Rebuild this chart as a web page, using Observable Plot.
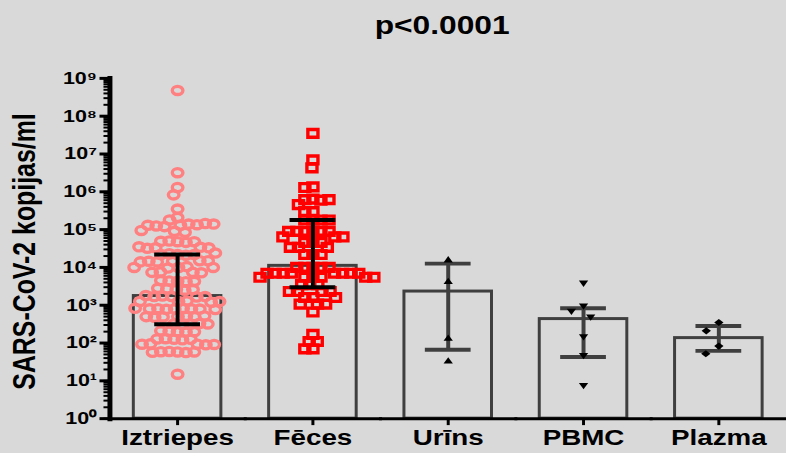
<!DOCTYPE html>
<html><head><meta charset="utf-8">
<script src="https://cdn.jsdelivr.net/npm/d3@7"></script>
<script src="https://cdn.jsdelivr.net/npm/@observablehq/plot@0.6"></script>
<style>
html,body{margin:0;padding:0;background:#d9d9d9;overflow:hidden;}
#wrap{width:786px;height:453px;overflow:hidden;position:relative;font-family:"Liberation Sans",Arial,sans-serif;}
#title{height:55px;box-sizing:border-box;padding-top:11px;padding-left:98px;text-align:center;line-height:28px;}
#title span{display:inline-block;font-weight:bold;font-size:25px;transform:scaleX(1.27);color:#000;}
#chart svg{display:block;}
</style></head>
<body><div id="wrap"><div id="title"><span id="t"></span></div><div id="chart"></div></div>
<script>
const title = "p<0.0001";
const yLabel = "SARS-CoV-2 kopijas/ml";
const categories = ["Iztriepes", "Fēces", "Urīns", "PBMC", "Plazma"];
const medians = [1750, 11000, 2300, 430, 135];
const lows = [316, 3000, 66, 43, 62];
const highs = [22000, 180000, 12600, 830, 282];
const yTicks = [1, 10, 100, 1e3, 1e4, 1e5, 1e6, 1e7, 1e8, 1e9];

const iztriepes = [
  4.8e8, 3.2e6, 1.3e6, 8.3e5, 3.5e5, 2.1e5, 1.8e5,
  1.3e5, 1.4e5, 1.2e5, 1.35e5, 1.25e5, 1.45e5, 1.3e5, 1.4e5,
  9e4, 8.5e4, 9.5e4,
  4.8e4, 5e4, 4.6e4, 4.8e4, 4.9e4,
  3.3e4, 3.4e4, 3.2e4, 3.3e4, 3.5e4,
  2.2e4, 2.3e4, 2.1e4, 2.2e4, 2.2e4, 2.4e4,
  1.45e4, 1.5e4, 1.4e4, 1.45e4, 1.5e4, 1.4e4,
  1e4, 1.05e4, 9.6e3, 1e4, 1e4,
  7.4e3, 7.6e3, 7.2e3, 7.4e3,
  4.3e3, 4.4e3, 4.2e3, 4.3e3, 4.5e3,
  2.6e3, 2.7e3, 2.5e3, 2.6e3, 2.8e3,
  1.7e3, 1.75e3, 1.65e3, 1.7e3, 1.7e3, 1.8e3,
  1.26e3, 1.3e3, 1.2e3, 1.26e3, 1.25e3,
  800, 820, 780, 800, 810, 790, 800, 830, 770,
  500, 510, 490, 500, 520, 480, 500,
  320, 330, 310, 320, 320,
  200, 205, 195, 200, 210,
  126, 130, 122, 126, 128,
  93, 95, 90, 93, 92,
  58, 60, 56, 58, 59, 57,
  15
];
const feces = [
  3.5e7, 7e6, 4.3e6, 1.35e6, 1.3e6,
  6.4e5, 6.2e5, 6.0e5, 6.2e5, 4.6e5,
  3e5, 3e5,
  1.8e5, 1.8e5, 1.8e5, 1.8e5,
  9e4, 9e4, 9e4, 9e4, 9e4, 9e4,
  6.4e4, 6.4e4, 6.4e4,
  4.6e4, 4.6e4, 4.6e4,
  3.4e4, 3.4e4, 3.4e4,
  2.2e4, 2.2e4, 2.2e4,
  1e4, 1e4, 1e4, 1e4, 1e4,
  7e3, 7e3, 7e3, 7e3, 7e3, 7e3, 7e3, 7e3,
  5.5e3, 5.5e3, 5.5e3, 5.5e3, 5.5e3, 5.5e3,
  3.5e3, 3.5e3, 3.5e3,
  2.3e3, 2.3e3, 2.3e3, 2.3e3,
  1.6e3, 1.6e3, 1.6e3,
  1.07e3, 1.07e3, 1.07e3,
  660, 170, 110, 110, 70, 70
];
const urins = [16000, 4300, 135, 34];
const pbmc = [3800, 940, 690, 480, 145, 46, 7.4];
const plazma = [350, 210, 83, 52];

document.getElementById("t").textContent = title;

const SX = 1.3;
const K = 0.5523;
const sizeR = (size) => Math.sqrt(size / Math.PI);
const ringSym = {draw(c, size) {
  const ry = sizeR(size), rx = ry * SX;
  c.moveTo(rx, 0);
  c.bezierCurveTo(rx, K * ry, K * rx, ry, 0, ry);
  c.bezierCurveTo(-K * rx, ry, -rx, K * ry, -rx, 0);
  c.bezierCurveTo(-rx, -K * ry, -K * rx, -ry, 0, -ry);
  c.bezierCurveTo(K * rx, -ry, rx, -K * ry, rx, 0);
  c.closePath();
}};
const squareSym = {draw(c, size) {
  const h = sizeR(size), w = h * SX;
  c.rect(-w, -h, 2 * w, 2 * h);
}};
const triUp = {draw(c, size) {
  const r = sizeR(size), w = r * SX;
  c.moveTo(0, -r); c.lineTo(w, r * 0.75); c.lineTo(-w, r * 0.75); c.closePath();
}};
const triDown = {draw(c, size) {
  const r = sizeR(size), w = r * SX;
  c.moveTo(0, r); c.lineTo(w, -r * 0.75); c.lineTo(-w, -r * 0.75); c.closePath();
}};
const diamond = {draw(c, size) {
  const r = sizeR(size), w = r * SX;
  c.moveTo(0, -r); c.lineTo(w, 0); c.lineTo(0, r); c.lineTo(-w, 0); c.closePath();
}};

const summary = categories.map((cat, i) => ({cat, median: medians[i], lo: lows[i], hi: highs[i]}));
const rows = (cat, vals) => vals.map((v) => ({cat, v}));
const strong = new Set([categories[0], categories[1]]);

const sup = {"0":"⁰","1":"¹","2":"²","3":"³","4":"⁴","5":"⁵","6":"⁶","7":"⁷","8":"⁸","9":"⁹"};
const fmt = (d) => "10" + String(Math.round(Math.log10(d))).split("").map((c) => sup[c]).join("");

const errMarks = (filter, stroke) => [
  Plot.ruleX(summary, {filter, fx: "cat", x: null, y1: "lo", y2: "hi", stroke, strokeWidth: 4}),
  Plot.tickY(summary, {filter, fx: "cat", y: "hi", insetLeft: 45, insetRight: 45, stroke, strokeWidth: 4}),
  Plot.tickY(summary, {filter, fx: "cat", y: "lo", insetLeft: 45, insetRight: 45, stroke, strokeWidth: 4})
];

const svg = Plot.plot({
  width: 790, height: 398,
  marginLeft: 110, marginRight: 0, marginTop: 23, marginBottom: 33,
  style: {background: "transparent", fontFamily: "'Liberation Sans', Arial, sans-serif", fontWeight: "bold", color: "#000", overflow: "visible"},
  fx: {domain: categories, padding: 0, label: null},
  y: {type: "log", domain: [1, 1e9], label: null},
  marks: [
    Plot.barY(summary, {fx: "cat", y1: 1, y2: "median", insetLeft: 24, insetRight: 24, fill: "none", stroke: "#3f3f3f", strokeWidth: 3}),
    errMarks((d) => !strong.has(d.cat), "#3f3f3f"),
    Plot.dot(rows(categories[0], iztriepes), Plot.dodgeX({anchor: "middle", padding: 0.2}, {fx: "cat", y: "v", r: 4.1, symbol: ringSym, fill: "none", stroke: "#ff8080", strokeWidth: 3.4})),
    Plot.dot(rows(categories[1], feces), Plot.dodgeX({anchor: "middle", padding: 0.3}, {fx: "cat", y: "v", r: 3.9, symbol: squareSym, fill: "none", stroke: "#ff0000", strokeWidth: 3.4})),
    Plot.dot(rows(categories[2], urins), Plot.dodgeX({anchor: "middle", padding: 2}, {fx: "cat", y: "v", r: 3.6, symbol: triUp, fill: "#000", stroke: "none"})),
    Plot.dot(rows(categories[3], pbmc), Plot.dodgeX({anchor: "middle", padding: 6}, {fx: "cat", y: "v", r: 3.6, symbol: triDown, fill: "#000", stroke: "none"})),
    Plot.dot(rows(categories[4], plazma), Plot.dodgeX({anchor: "middle", padding: 8}, {fx: "cat", y: "v", r: 3.6, symbol: diamond, fill: "#000", stroke: "none"})),
    errMarks((d) => strong.has(d.cat), "#000"),
    Plot.frame({anchor: "bottom", stroke: "#000", strokeWidth: 3}),
    Plot.frame({anchor: "left", stroke: "#000", strokeWidth: 5, facetAnchor: "left"}),
    Plot.axisY({ticks: 10, tickSize: 6, tickFormat: () => "", label: null, strokeWidth: 2}),
    Plot.axisY({ticks: yTicks, tickSize: 10, tickPadding: 3, tickFormat: fmt, label: null, strokeWidth: 3, fontSize: 17, fontWeight: "bold"}),
    Plot.axisFx({anchor: "bottom", tickSize: 7, tickPadding: 4, label: null, strokeWidth: 3, fontSize: 22, fontWeight: "bold"}),
    Plot.text([yLabel], {frameAnchor: "left", textAnchor: "middle", dx: -85, dy: 3, rotate: -90, fontSize: 25, fontWeight: "bold", facetAnchor: "left"})
  ]
});

d3.select(svg).selectAll("text").each(function () {
  const t = this.getAttribute("transform") || "";
  if (t.includes("rotate")) this.setAttribute("transform", t.replace("rotate", `scale(1.27,1) rotate`));
  else this.setAttribute("transform", t + " scale(1.27,1)");
});

document.getElementById("chart").appendChild(svg);
</script></body></html>
